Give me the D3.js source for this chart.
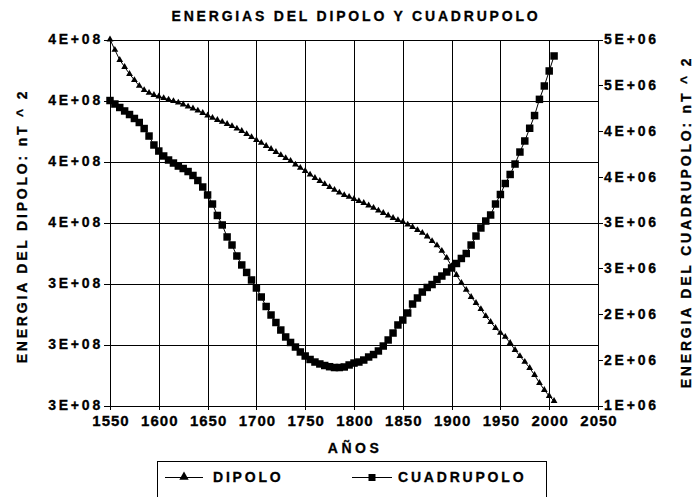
<!DOCTYPE html>
<html>
<head>
<meta charset="utf-8">
<script src="https://cdn.jsdelivr.net/npm/d3@7"></script>
<style>
  body { margin: 0; background: #fff; }
  svg text { font-family: "Liberation Sans", Arial, sans-serif; font-weight: bold; font-size: 14px; fill: #000; letter-spacing: 2.8px; stroke: #000; stroke-width: 0.3px; }
</style>
</head>
<body>
<div id="chart"></div>
<script>
// años (cada 5)
const years = [1550,1555,1560,1565,1570,1575,1580,1585,1590,1595,
  1600,1605,1610,1615,1620,1625,1630,1635,1640,1645,
  1650,1655,1660,1665,1670,1675,1680,1685,1690,1695,
  1700,1705,1710,1715,1720,1725,1730,1735,1740,1745,
  1750,1755,1760,1765,1770,1775,1780,1785,1790,1795,
  1800,1805,1810,1815,1820,1825,1830,1835,1840,1845,
  1850,1855,1860,1865,1870,1875,1880,1885,1890,1895,
  1900,1905,1910,1915,1920,1925,1930,1935,1940,1945,
  1950,1955,1960,1965,1970,1975,1980,1985,1990,1995,
  2000,2005];

// energia del dipolo, en unidades de 1E+08 nT^2
const dipolo = [4.200,4.166,4.133,4.110,4.087,4.067,4.048,4.034,4.025,4.018,
  4.013,4.008,4.003,3.998,3.993,3.987,3.980,3.974,3.967,3.959,
  3.951,3.943,3.936,3.930,3.923,3.916,3.908,3.900,3.890,3.880,
  3.870,3.861,3.851,3.841,3.831,3.821,3.811,3.802,3.790,3.779,
  3.769,3.757,3.746,3.736,3.726,3.716,3.707,3.698,3.690,3.684,
  3.677,3.670,3.664,3.656,3.648,3.639,3.631,3.623,3.615,3.608,
  3.602,3.593,3.585,3.575,3.566,3.554,3.539,3.525,3.507,3.484,
  3.457,3.428,3.402,3.379,3.356,3.336,3.316,3.293,3.274,3.254,
  3.238,3.225,3.205,3.182,3.162,3.143,3.123,3.100,3.074,3.051,
  3.031,3.015];

// energia del cuadrupolo, en unidades de 1E+06 nT^2
const cuadrupolo = [4.333,4.295,4.257,4.219,4.180,4.137,4.093,4.027,3.945,3.847,
  3.781,3.727,3.683,3.650,3.617,3.590,3.557,3.514,3.459,3.388,
  3.301,3.202,3.077,2.973,2.842,2.754,2.634,2.536,2.454,2.372,
  2.284,2.186,2.082,1.989,1.907,1.825,1.749,1.689,1.639,1.585,
  1.541,1.503,1.475,1.454,1.437,1.424,1.415,1.415,1.421,1.443,
  1.464,1.475,1.497,1.530,1.557,1.596,1.650,1.716,1.792,1.880,
  1.934,2.011,2.109,2.175,2.240,2.290,2.322,2.377,2.415,2.459,
  2.503,2.552,2.607,2.661,2.754,2.852,2.940,3.016,3.082,3.202,
  3.306,3.426,3.525,3.639,3.770,3.891,4.030,4.169,4.346,4.492,
  4.656,4.820];

// ejes
const xTicks = [1550,1600,1650,1700,1750,1800,1850,1900,1950,2000,2050];
const leftTicks = [3.0,3.2,3.4,3.6,3.8,4.0,4.2];
const leftLabels = ["3E+08","3E+08","3E+08","4E+08","4E+08","4E+08","4E+08"];
const rightTicks = [1.0,1.5,2.0,2.5,3.0,3.5,4.0,4.5,5.0];
const rightLabels = ["1E+06","2E+06","2E+06","3E+06","3E+06","4E+06","4E+06","5E+06","5E+06"];

const W = 694, H = 497;
const margin = { top: 39.5, right: 96, bottom: 91.5, left: 110 };
const width = W - margin.left - margin.right;    // 488
const height = H - margin.top - margin.bottom;   // 366

const svg = d3.select("#chart").append("svg")
  .attr("width", W)
  .attr("height", H);

svg.append("rect").attr("width", W).attr("height", H).attr("fill", "#fff");

const g = svg.append("g")
  .attr("transform", `translate(${margin.left},${margin.top})`);

const x = d3.scaleLinear().domain([1550, 2050]).range([0, width]);
const yL = d3.scaleLinear().domain([3.0, 4.2]).range([height, 0]);
const yR = d3.scaleLinear().domain([1.0, 5.0]).range([height, 0]);

// rejilla
g.append("g")
  .attr("class", "grid")
  .call(d3.axisLeft(yL).tickValues(leftTicks).tickSize(-width).tickFormat(""))
  .call(s => s.select(".domain").remove());
g.append("g")
  .attr("class", "grid")
  .attr("transform", `translate(0,${height})`)
  .call(d3.axisBottom(x).tickValues(xTicks).tickSize(height).tickFormat(""))
  .call(s => s.select(".domain").remove())
  .selectAll("line").attr("y1", -height).attr("y2", 0);
g.selectAll(".grid line").attr("stroke", "#000").attr("shape-rendering", "crispEdges");

// ejes
g.append("g")
  .attr("transform", `translate(0,${height})`)
  .call(d3.axisBottom(x).tickValues(xTicks).tickFormat(d3.format("d")).tickSize(4).tickPadding(6).tickSizeOuter(0))
  .selectAll("text").style("letter-spacing", "1px").style("font-size", "15px").attr("dx", "0.5");

g.append("g")
  .call(d3.axisLeft(yL).tickValues(leftTicks).tickFormat((d, i) => leftLabels[i]).tickSize(6).tickPadding(1).tickSizeOuter(0));

g.append("g")
  .attr("transform", `translate(${width},0)`)
  .call(d3.axisRight(yR).tickValues(rightTicks).tickFormat((d, i) => rightLabels[i]).tickSize(5).tickPadding(1).tickSizeOuter(0));

g.selectAll(".domain, .tick line").attr("stroke", "#000").attr("shape-rendering", "crispEdges");
g.selectAll(".tick text").attr("fill", "#000");

// series
const dipData = years.map((yr, i) => ({ yr, v: dipolo[i] }));
const cuaData = years.map((yr, i) => ({ yr, v: cuadrupolo[i] }));

g.append("path")
  .datum(dipData)
  .attr("fill", "none").attr("stroke", "#000").attr("stroke-width", 1)
  .attr("d", d3.line().x(d => x(d.yr)).y(d => yL(d.v)));

g.append("path")
  .datum(cuaData)
  .attr("fill", "none").attr("stroke", "#000").attr("stroke-width", 1)
  .attr("d", d3.line().x(d => x(d.yr)).y(d => yR(d.v)));

g.selectAll(".tri").data(dipData).enter()
  .append("path")
  .attr("class", "tri")
  .attr("transform", d => `translate(${x(d.yr)},${yL(d.v)})`)
  .attr("d", d3.symbol().type(d3.symbolTriangle).size(20))
  .attr("fill", "#000");

g.selectAll(".sq").data(cuaData).enter()
  .append("path")
  .attr("class", "sq")
  .attr("transform", d => `translate(${x(d.yr)},${yR(d.v)})`)
  .attr("d", d3.symbol().type(d3.symbolSquare).size(56))
  .attr("fill", "#000");

// textos
svg.append("text")
  .attr("x", 356).attr("y", 21)
  .attr("text-anchor", "middle")
  .style("letter-spacing", "2.8px")
  .text("ENERGIAS DEL DIPOLO Y CUADRUPOLO");

svg.append("text")
  .attr("x", 355).attr("y", 452.7)
  .attr("text-anchor", "middle")
  .style("letter-spacing", "3.5px")
  .text("AÑOS");

svg.append("text")
  .attr("transform", "translate(26.5,226) rotate(-90)")
  .attr("text-anchor", "middle")
  .text("ENERGIA DEL DIPOLO: nT ^ 2");

svg.append("text")
  .attr("transform", "translate(691,222) rotate(-90)")
  .attr("text-anchor", "middle")
  .text("ENERGIA DEL CUADRUPOLO: nT ^ 2");

// leyenda
const leg = svg.append("g");
leg.append("rect")
  .attr("x", 157.5).attr("y", 461.5).attr("width", 389).attr("height", 60)
  .attr("fill", "none").attr("stroke", "#000");

leg.append("line").attr("x1", 165).attr("x2", 203).attr("y1", 477.5).attr("y2", 477.5).attr("stroke", "#000");
leg.append("path")
  .attr("transform", "translate(184,477)")
  .attr("d", d3.symbol().type(d3.symbolTriangle).size(38))
  .attr("fill", "#000");
leg.append("text").attr("x", 213).attr("y", 481.5).text("DIPOLO");

leg.append("line").attr("x1", 352).attr("x2", 392).attr("y1", 477.5).attr("y2", 477.5).attr("stroke", "#000");
leg.append("path")
  .attr("transform", "translate(372,477.5)")
  .attr("d", d3.symbol().type(d3.symbolSquare).size(49))
  .attr("fill", "#000");
leg.append("text").attr("x", 398).attr("y", 481.5).text("CUADRUPOLO");
</script>
</body>
</html>
